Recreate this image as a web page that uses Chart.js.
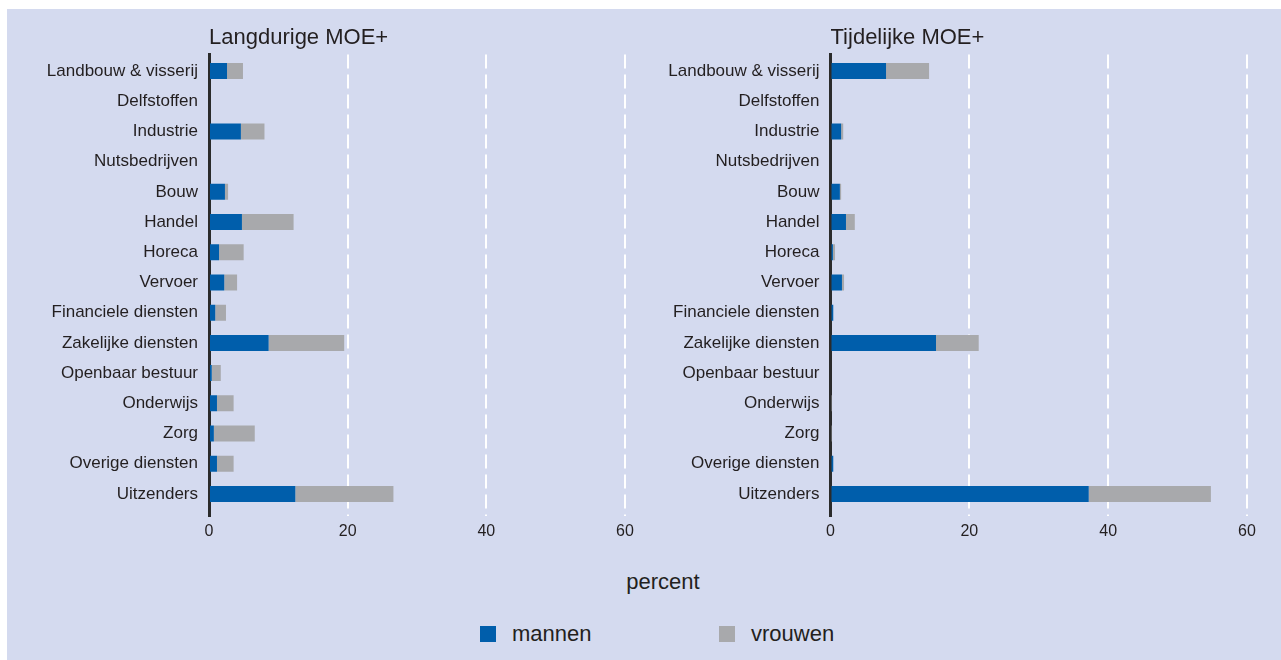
<!DOCTYPE html>
<html>
<head>
<meta charset="utf-8">
<script src="https://cdn.jsdelivr.net/npm/chart.js@4.4.1/dist/chart.umd.min.js"></script>
<style>
  html, body { margin:0; padding:0; background:#ffffff; }
  body { width:1281px; height:660px; position:relative; overflow:hidden; font-family:'Liberation Sans', Arial, sans-serif; color:#231f20; }
  #panel { position:absolute; left:7px; top:9px; right:0; bottom:0; background:#d4daef; }
  canvas { position:absolute; top:0; }
  #c1 { left:0; }
  #c2 { left:640px; }
  #xtitle { position:absolute; top:571px; left:0; width:1326px; text-align:center; font-size:22px; line-height:22px; }
  .leg { position:absolute; top:623px; font-size:22px; line-height:22px; white-space:nowrap; }
  .box { position:absolute; width:16px; height:16px; top:626px; }
</style>
</head>
<body>
<div id="panel"></div>
<canvas id="c1" width="640" height="546"></canvas>
<canvas id="c2" width="641" height="546"></canvas>
<div id="xtitle">percent</div>
<div id="legend"></div>
<script>
const categories = ['Landbouw & visserij','Delfstoffen','Industrie','Nutsbedrijven','Bouw','Handel','Horeca','Vervoer','Financiele diensten','Zakelijke diensten','Openbaar bestuur','Onderwijs','Zorg','Overige diensten','Uitzenders'];
const seriesNames = ['mannen','vrouwen'];
const seriesColors = ['#005eab','#a8a9ac'];
const panelTitles = ['Langdurige MOE+','Tijdelijke MOE+'];
const xTicks = [0,20,40,60];
const axisTitle = 'percent';

// Langdurige MOE+
const langMannen  = [2.6,0,4.6,0,2.3,4.75,1.45,2.2,0.9,8.6,0.4,1.15,0.7,1.15,12.45];
const langVrouwen = [2.3,0,3.4,0,0.45,7.45,3.55,1.85,1.55,10.9,1.3,2.4,5.9,2.4,14.15];
// Tijdelijke MOE+
const tijdMannen  = [8.0,0,1.53,0,1.35,2.23,0.35,1.65,0.4,15.2,0,0,0,0.4,37.2];
const tijdVrouwen = [6.2,0,0.3,0,0.18,1.27,0.3,0.3,0,6.15,0,0.2,0.2,0,17.6];

const FONT = "'Liberation Sans', Arial, sans-serif";
const TEXT = '#231f20';

function toPoints(vals){ return vals.map((v,i)=>({x:v, y:i})); }

function makeChart(id, title, mannen, vrouwen, yWidth, padRight){
  return new Chart(document.getElementById(id), {
    type:'bar',
    data:{
      datasets:[
        {label:seriesNames[0], data:toPoints(mannen), backgroundColor:seriesColors[0], borderWidth:0, barPercentage:0.53, categoryPercentage:1},
        {label:seriesNames[1], data:toPoints(vrouwen), backgroundColor:seriesColors[1], borderWidth:0, barPercentage:0.53, categoryPercentage:1}
      ]
    },
    options:{
      indexAxis:'y',
      responsive:false,
      animation:false,
      layout:{padding:{left:0,right:padRight,top:0,bottom:0}},
      plugins:{
        legend:{display:false},
        tooltip:{enabled:false},
        title:{display:true, text:title, align:'start', fullSize:false, color:TEXT,
               font:{family:FONT, size:22, weight:'normal'}, padding:{top:25,bottom:3}}
      },
      scales:{
        x:{
          type:'linear', min:0, max:60, stacked:true,
          afterBuildTicks: s => { s.ticks = xTicks.map(v=>({value:v})); },
          afterFit: s => { s.height = 30; },
          ticks:{color:TEXT, font:{family:FONT, size:16}, padding:6},
          grid:{color: c => (c.tick && c.tick.value === 0) ? 'rgba(0,0,0,0)' : '#ffffff', lineWidth:2, drawTicks:false},
          border:{display:false, dash:[14,6]}
        },
        y:{
          type:'linear', reverse:true, min:-0.55, max:14.73, stacked:true, offset:false,
          afterBuildTicks: s => { s.ticks = categories.map((c,i)=>({value:i})); },
          afterFit: s => { s.width = yWidth; },
          ticks:{autoSkip:false, color:TEXT, font:{family:FONT, size:17}, padding:11,
                 callback: v => categories[v]},
          grid:{display:false, drawTicks:false, offset:false},
          border:{display:true, color:'#2b2b2b', width:3}
        }
      }
    }
  });
}

makeChart('c1', panelTitles[0], langMannen, langVrouwen, 209, 15);
makeChart('c2', panelTitles[1], tijdMannen, tijdVrouwen, 190.5, 34);

document.getElementById('xtitle').textContent = axisTitle;
const legendPos = [480, 719];
const leg = document.getElementById('legend');
seriesNames.forEach((n,i)=>{
  const b = document.createElement('div'); b.className='box'; b.style.left = legendPos[i]+'px'; b.style.background = seriesColors[i]; leg.appendChild(b);
  const t = document.createElement('div'); t.className='leg'; t.style.left = (legendPos[i]+32)+'px'; t.textContent = n; leg.appendChild(t);
});
</script>
</body>
</html>
